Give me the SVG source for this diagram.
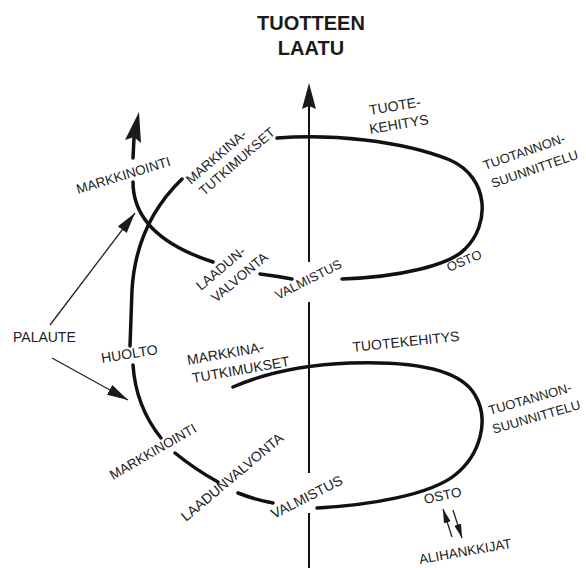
<svg xmlns="http://www.w3.org/2000/svg" width="586" height="568" viewBox="0 0 586 568">
<style>
.lb{font-family:"Liberation Sans",Arial,Helvetica,sans-serif;font-size:13.5px;fill:#222}
.ttl{font-family:"Liberation Sans",Arial,Helvetica,sans-serif;font-size:20px;font-weight:bold;fill:#1a1a1a;text-anchor:middle}
.loop{fill:none;stroke:#111;stroke-width:3.5;stroke-linecap:round}
.axis{fill:none;stroke:#111;stroke-width:2}
.thin{fill:none;stroke:#222;stroke-width:1.3}
.head{fill:#1a1a1a}
</style>
<defs>
<marker id="ah" markerUnits="userSpaceOnUse" markerWidth="22" markerHeight="12" refX="21" refY="5.5" orient="auto">
<path d="M0,0 L21,5.5 L0,11 z" fill="#1a1a1a"/>
</marker>
<marker id="ahs" markerUnits="userSpaceOnUse" markerWidth="15" markerHeight="8" refX="14" refY="3.5" orient="auto">
<path d="M0,0 L14,3.5 L0,7 z" fill="#1a1a1a"/>
</marker>
</defs>
<rect width="586" height="568" fill="#fff"/>

<g id="title">
<text class="ttl" x="311" y="30">TUOTTEEN</text>
<text class="ttl" x="311" y="55">LAATU</text>
</g>

<g id="connectors">
<!-- vertical quality axis -->
<line class="axis" x1="309" y1="106" x2="309" y2="262"/>
<line class="axis" x1="309" y1="302" x2="309" y2="473"/>
<line class="axis" x1="309" y1="513" x2="309" y2="568"/>
<polygon class="head" points="309,83 302,109 309,106 316,109"/>
<!-- upper spiral -->
<path class="loop" d="M277,138 C330,134 400,140 450,160 C490,178 490,225 465,249 C450,265 400,277 342,279"/>
<path class="loop" d="M260,274 Q276,276 292,279"/>
<path class="loop" d="M213,262 C170,248 133,225 133,182"/>
<path class="loop" d="M133,158 L134,138"/>
<polygon class="head" points="139,112 125,140 134,137 141,143"/>
<!-- left S curve -->
<path class="loop" d="M182,179 C155,205 135,240 132,290 L130,346"/>
<path class="loop" d="M133,365 C135,395 145,418 161,438"/>
<path class="loop" d="M175,453 Q196,470 218,482"/>
<path class="loop" d="M238,493 Q256,500 273,503"/>
<!-- lower loop -->
<path class="loop" d="M233,387 C265,373 300,365 350,363 C410,361 460,368 475,395 C490,420 480,455 455,475 C430,495 370,505 317,508"/>
<!-- feedback arrows -->
<line class="thin" x1="50" y1="325" x2="135" y2="213" marker-end="url(#ah)"/>
<line class="thin" x1="52" y1="358" x2="128" y2="400" marker-end="url(#ah)"/>
<!-- purchasing arrows -->
<line class="thin" x1="452" y1="537" x2="443" y2="509" marker-end="url(#ahs)"/>
<line class="thin" x1="453" y1="510" x2="462" y2="538" marker-end="url(#ahs)"/>
</g>

<g id="u-markkinointi"><text class="lb" transform="translate(78,194) rotate(-17)">MARKKINOINTI</text></g>
<g id="u-markkinatutkimukset"><text class="lb" transform="translate(191,185) rotate(-41)">MARKKINA-<tspan x="2.5" y="17">TUTKIMUKSET</tspan></text></g>
<g id="u-tuotekehitys"><text class="lb" style="font-size:14px" transform="translate(370,115) rotate(-9.5)">TUOTE-<tspan x="-3" y="18.7">KEHITYS</tspan></text></g>
<g id="u-tuotannonsuunnittelu"><text class="lb" style="font-size:13px" transform="translate(485,170) rotate(-19)">TUOTANNON-<tspan x="1.7" y="19.6">SUUNNITTELU</tspan></text></g>
<g id="u-osto"><text class="lb" style="font-size:13px" transform="translate(449,272) rotate(-23)">OSTO</text></g>
<g id="u-valmistus"><text class="lb" style="font-size:13px" transform="translate(278,300) rotate(-27)">VALMISTUS</text></g>
<g id="u-laadunvalvonta"><text class="lb" transform="translate(201,291) rotate(-40)">LAADUN-<tspan x="3.8" y="18.8">VALVONTA</tspan></text></g>

<g id="palaute"><text class="lb" style="font-size:14px" x="13" y="342">PALAUTE</text></g>
<g id="huolto"><text class="lb" style="font-size:14px" transform="translate(102,363) rotate(-9)">HUOLTO</text></g>

<g id="l-markkinatutkimukset"><text class="lb" style="font-size:14px" transform="translate(188,365) rotate(-10)">MARKKINA-<tspan x="1.8" y="18.6">TUTKIMUKSET</tspan></text></g>
<g id="l-tuotekehitys"><text class="lb" style="font-size:14px" transform="translate(353,352) rotate(-6)">TUOTEKEHITYS</text></g>
<g id="l-tuotannonsuunnittelu"><text class="lb" style="font-size:13px" transform="translate(490,415) rotate(-16)">TUOTANNON-<tspan x="-1.5" y="19">SUUNNITTELU</tspan></text></g>
<g id="l-osto"><text class="lb" transform="translate(425,504) rotate(-12)">OSTO</text></g>
<g id="l-alihankkijat"><text class="lb" transform="translate(420,564) rotate(-10)">ALIHANKKIJAT</text></g>
<g id="l-valmistus"><text class="lb" style="font-size:14px" transform="translate(274,519) rotate(-27)">VALMISTUS</text></g>
<g id="l-laadunvalvonta"><text class="lb" style="font-size:14px" transform="translate(186,522) rotate(-40)">LAADUNVALVONTA</text></g>
<g id="l-markkinointi"><text class="lb" transform="translate(113,480) rotate(-30)">MARKKINOINTI</text></g>
</svg>
